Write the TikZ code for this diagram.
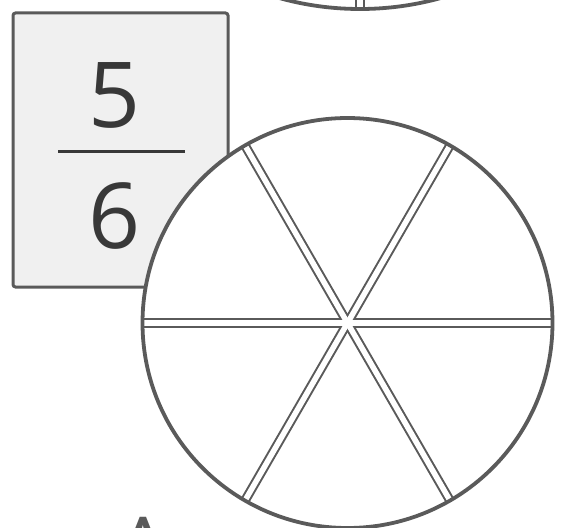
\documentclass[tikz,border=0pt]{standalone}
\usepackage{fontspec}
\setmainfont{Open Sans}
\definecolor{edge}{HTML}{5A5A5A}
\definecolor{ink}{HTML}{383838}
\definecolor{boxfill}{HTML}{F0F0F0}
\begin{document}
\begin{tikzpicture}[x=1pt,y=-1pt,
  cardbox/.style={draw=edge,line width=3pt,fill=boxfill,rounded corners=2.5pt,inner sep=0pt,minimum width=215pt,minimum height=274pt},
  digit/.style={text=ink,inner sep=0pt,anchor=base,font=\fontsize{91}{100}\selectfont},
  piedisc/.style={circle,fill=white,inner sep=0pt},
  rimline/.style={draw=edge,line width=3.8pt},
  spokeout/.style={draw=edge,line width=9.5pt},
  spokein/.style={draw=white,line width=5.5pt}]
\useasboundingbox (0,0) rectangle (567,527);
% top partial circle
\node[piedisc,minimum size=600pt] (toppie) at (360,-291) {};
\coordinate (topc) at (360,-291);
\draw[spokeout] (toppie.center) -- (toppie.-90);
\draw[spokein] (toppie.center) -- (toppie.-90);
\draw[rimline] (topc) circle[radius=300];
% card
\node[cardbox] (card) at (120.5,150) {};
\node[digit] (num) at (115,127) {5};
\node[digit] (den) at (115,248) {6};
\coordinate (barl) at (58,151);
\coordinate (barr) at (185,151);
\draw[ink,line width=3pt] (barl) -- (barr);
% main pie
\node[piedisc,minimum size=410pt] (pie) at (347.5,323) {};
\foreach \a in {0,60,120,180,240,300}
  \draw[spokeout] (pie.center) -- (pie.\a);
\foreach \a in {0,60,120,180,240,300}
  \draw[spokein] (pie.center) -- (pie.\a);
\draw[rimline] (pie.center) circle[radius=205];
% letter at bottom left
\node[digit,text=edge] (lett) at (143,582) {A};
\end{tikzpicture}
\end{document}
